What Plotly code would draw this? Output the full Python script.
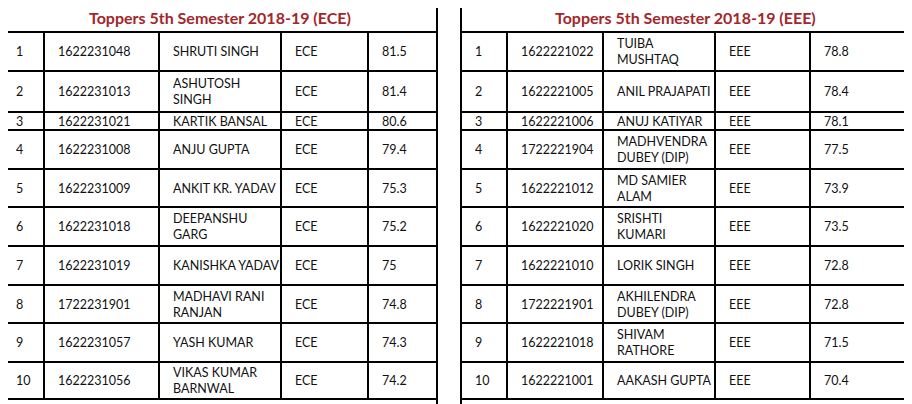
import plotly.graph_objects as go

titles = ["Toppers 5th Semester 2018-19 (ECE)", "Toppers 5th Semester 2018-19 (EEE)"]
ranks = [str(i) for i in range(1, 11)]
ece_roll = ["1622231048","1622231013","1622231021","1622231008","1622231009",
            "1622231018","1622231019","1722231901","1622231057","1622231056"]
ece_name = ["SHRUTI SINGH","ASHUTOSH<br>SINGH","KARTIK BANSAL","ANJU GUPTA","ANKIT KR. YADAV",
            "DEEPANSHU<br>GARG","KANISHKA YADAV","MADHAVI RANI<br>RANJAN","YASH KUMAR","VIKAS KUMAR<br>BARNWAL"]
ece_marks = ["81.5","81.4","80.6","79.4","75.3","75.2","75","74.8","74.3","74.2"]
eee_roll = ["1622221022","1622221005","1622221006","1722221904","1622221012",
            "1622221020","1622221010","1722221901","1622221018","1622221001"]
eee_name = ["TUIBA<br>MUSHTAQ","ANIL PRAJAPATI","ANUJ KATIYAR","MADHVENDRA<br>DUBEY (DIP)","MD SAMIER<br>ALAM",
            "SRISHTI<br>KUMARI","LORIK SINGH","AKHILENDRA<br>DUBEY (DIP)","SHIVAM<br>RATHORE","AAKASH GUPTA"]
eee_marks = ["78.8","78.4","78.1","77.5","73.9","73.5","72.8","72.8","71.5","70.4"]

# layout geometry (pixels in the screenshot)
row_edges = [3, 32, 71, 112, 130, 169, 207, 246, 285, 323, 362, 399]
left_cols = [2, 44, 159, 281, 368, 437]
right_cols = [461, 507, 603, 715, 810, 910]
OFF = 8  # page body margin

fig = go.Figure()
fig.add_trace(go.Scatter(x=[100], y=[100], mode="markers", marker=dict(opacity=0), hoverinfo="skip"))
shapes, anns = [], []
FONT = "Lato, 'Open Sans', sans-serif"
LW = 2

def table(cols, title, roll, name, dept, marks):
    x0, x1 = cols[0], cols[-1]
    for x in (x0, x1):
        shapes.append(dict(type="line", x0=x, x1=x, y0=row_edges[0], y1=420, line=dict(color="black", width=LW)))
    for x in cols[1:-1]:
        shapes.append(dict(type="line", x0=x, x1=x, y0=row_edges[1], y1=row_edges[-1], line=dict(color="black", width=LW)))
    for y in row_edges:
        shapes.append(dict(type="line", x0=x0, x1=x1, y0=y, y1=y, line=dict(color="black", width=LW)))
    anns.append(dict(x=(x0 + x1) / 2, y=(row_edges[0] + row_edges[1]) / 2, text="<b>" + title + "</b>",
                     showarrow=False, font=dict(family=FONT, size=16, color="#A3262A")))
    for i in range(10):
        yc = (row_edges[i + 1] + row_edges[i + 2]) / 2
        vals = [ranks[i], roll[i], name[i], dept, marks[i]]
        for j, v in enumerate(vals):
            anns.append(dict(x=cols[j] + 12, y=yc, text=v, xanchor="left", yanchor="middle",
                             showarrow=False, align="left",
                             font=dict(family=FONT, size=12.5, color="#111")))

table(left_cols, titles[0], ece_roll, ece_name, "ECE", ece_marks)
table(right_cols, titles[1], eee_roll, eee_name, "EEE", eee_marks)

fig.update_layout(width=912, height=404, margin=dict(l=0, r=0, t=0, b=0),
                  plot_bgcolor="white", paper_bgcolor="white", showlegend=False,
                  xaxis=dict(range=[OFF, 912 + OFF], visible=False, fixedrange=True),
                  yaxis=dict(range=[404 + OFF, OFF], visible=False, fixedrange=True),
                  shapes=shapes, annotations=anns)
fig.write_html("out.html")
